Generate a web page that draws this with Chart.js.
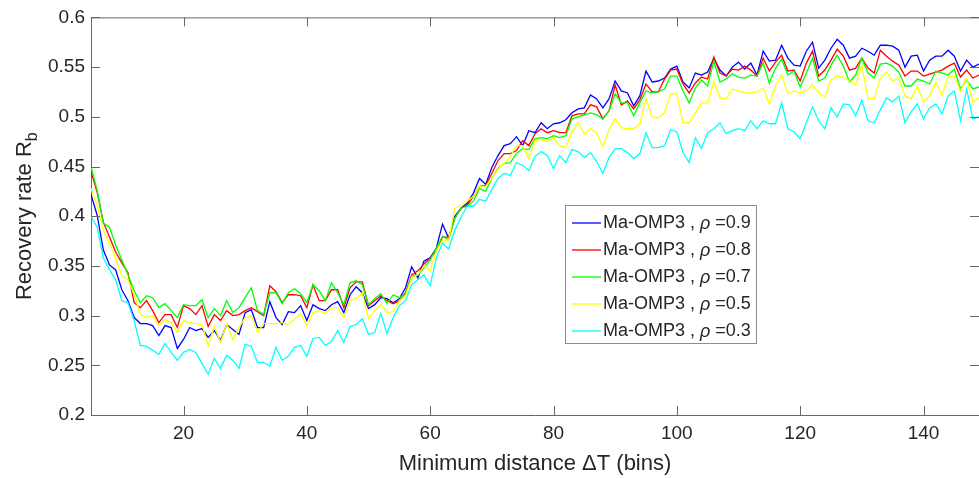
<!DOCTYPE html>
<html><head><meta charset="utf-8">
<script src="https://cdn.jsdelivr.net/npm/chart.js@4"></script>
<style>html,body{margin:0;padding:0;background:#fff;}#wrap{width:979px;height:478px;}</style>
</head><body><div id="wrap"><canvas id="c" width="979" height="478"></canvas></div>
<script>
const deltaT = [5,6,7,8,9,10,11,12,13,14,15,16,17,18,19,20,21,22,23,24,25,26,27,28,29,30,31,32,33,34,35,36,37,38,39,40,41,42,43,44,45,46,47,48,49,50,51,52,53,54,55,56,57,58,59,60,61,62,63,64,65,66,67,68,69,70,71,72,73,74,75,76,77,78,79,80,81,82,83,84,85,86,87,88,89,90,91,92,93,94,95,96,97,98,99,100,101,102,103,104,105,106,107,108,109,110,111,112,113,114,115,116,117,118,119,120,121,122,123,124,125,126,127,128,129,130,131,132,133,134,135,136,137,138,139,140,141,142,143,144,145,146,147,148,149];

const rho09 = [0.422,0.401,0.366,0.351,0.346,0.326,0.315,0.298,0.292,0.292,
0.290,0.280,0.290,0.288,0.267,0.276,0.288,0.285,0.287,0.278,
0.285,0.275,0.291,0.286,0.281,0.303,0.306,0.288,0.288,0.314,
0.298,0.291,0.304,0.303,0.310,0.295,0.311,0.307,0.305,0.311,
0.314,0.303,0.321,0.329,0.323,0.307,0.311,0.318,0.317,0.313,
0.317,0.328,0.349,0.338,0.355,0.358,0.368,0.392,0.378,0.400,
0.408,0.413,0.423,0.438,0.432,0.449,0.461,0.471,0.473,0.480,
0.471,0.486,0.484,0.494,0.488,0.493,0.494,0.497,0.504,0.508,
0.509,0.522,0.518,0.509,0.518,0.536,0.526,0.524,0.511,0.521,
0.546,0.535,0.536,0.539,0.548,0.551,0.535,0.529,0.544,0.542,
0.545,0.559,0.547,0.541,0.550,0.555,0.548,
0.554,0.542,0.566,0.556,0.557,0.572,0.559,0.552,0.551,0.566,0.575,0.549,0.557,0.569,0.578,0.572,0.559,0.561,0.569,0.566,0.562,0.572,0.572,0.571,0.567,0.550,0.561,0.562,0.546,0.557,0.561,0.561,0.567,0.561,0.546,0.557,0.550,0.553];

const rho08 = [0.445,0.424,0.394,0.379,0.364,0.353,0.343,0.313,0.308,0.315,
0.305,0.293,0.301,0.301,0.288,0.310,0.307,0.301,0.310,0.289,
0.301,0.295,0.305,0.300,0.301,0.305,0.308,0.304,0.300,0.330,
0.324,0.313,0.321,0.321,0.320,0.308,0.331,
0.315,0.315,0.326,0.326,0.308,0.328,0.334,0.334,0.310,0.315,
0.320,0.315,0.312,0.315,0.323,0.341,0.345,0.352,0.358,0.365,
0.379,0.379,0.398,0.408,0.411,0.420,0.430,0.431,0.443,0.456,
0.463,0.463,0.466,0.476,0.471,0.483,
0.488,0.484,0.486,0.484,0.484,0.501,0.503,0.503,0.512,0.510,
0.498,0.506,0.532,0.512,0.516,0.508,0.517,0.533,0.525,0.525,
0.538,0.547,0.548,0.533,0.524,0.534,0.540,0.538,0.560,0.544,
0.541,0.548,0.547,0.551,
0.547,0.541,0.559,0.546,0.555,0.562,0.546,0.547,0.536,0.554,0.566,0.541,0.547,0.557,0.568,0.561,0.547,0.549,0.559,0.549,0.544,0.567,0.561,0.556,0.552,0.541,0.546,0.546,0.541,0.543,0.545,0.547,0.551,0.554,0.540,0.547,0.539,0.542];

const rho07 = [0.450,0.426,0.393,0.389,0.371,0.356,0.341,0.325,0.313,0.320,
0.318,0.308,0.312,0.305,0.298,0.311,0.310,0.310,0.316,0.298,
0.307,0.300,0.315,0.303,0.308,0.318,0.328,0.305,0.301,0.323,
0.323,0.312,0.323,0.327,0.322,0.313,0.331,
0.325,0.315,0.333,0.323,0.311,0.333,0.335,0.331,0.311,0.317,
0.322,0.312,0.321,0.318,0.321,0.340,0.341,0.348,0.356,0.368,
0.380,0.376,0.398,0.408,0.410,0.415,0.428,0.425,0.438,0.448,
0.453,0.454,0.463,0.468,0.467,0.478,
0.479,0.478,0.481,0.479,0.481,0.498,0.500,0.502,0.504,0.502,
0.498,0.506,0.523,0.514,0.514,0.501,0.514,0.526,0.524,0.525,
0.528,0.541,0.541,0.526,0.514,0.529,0.537,0.531,0.556,0.535,
0.538,0.543,0.540,0.539,
0.542,0.541,0.554,0.534,0.549,0.558,0.542,0.546,0.530,0.544,0.559,0.536,0.539,0.552,0.562,0.551,0.535,0.542,0.559,0.544,0.539,0.553,0.554,0.551,0.545,0.531,0.531,0.538,0.536,0.533,0.546,0.544,0.542,0.548,0.528,0.537,0.528,0.530];

const rho05 = [0.428,0.411,0.386,0.373,0.358,0.340,0.336,0.321,0.301,0.298,
0.300,0.290,0.296,0.293,0.283,0.295,0.293,0.292,0.291,0.270,
0.289,0.273,0.292,0.276,0.288,0.298,0.300,0.283,0.292,0.292,
0.292,0.293,0.291,0.296,0.302,0.290,0.303,
0.305,0.302,0.308,0.308,0.298,0.315,0.317,0.323,0.297,0.305,
0.311,0.303,0.304,0.315,0.320,0.338,0.341,0.350,0.345,0.365,
0.376,0.376,0.408,0.411,0.415,0.420,0.430,0.430,0.438,0.447,
0.453,0.460,0.471,0.471,0.458,0.476,
0.477,0.475,0.479,0.471,0.469,0.485,0.494,0.483,0.488,0.484,
0.470,0.487,0.498,0.489,0.488,0.488,0.493,0.518,0.500,0.499,
0.504,0.523,0.523,0.494,0.494,0.504,0.514,0.514,0.536,0.519,
0.518,0.528,0.526,0.524,
0.524,0.525,0.529,0.513,0.531,0.542,0.523,0.526,0.524,0.526,0.532,0.524,0.520,0.537,0.541,0.540,0.536,0.532,0.552,0.518,0.518,0.539,0.545,0.536,0.539,0.521,0.518,0.531,0.515,0.521,0.535,0.522,0.540,0.541,0.526,0.539,0.515,0.519];

const rho03 = [0.400,0.389,0.358,0.346,0.336,0.315,0.313,0.295,0.270,0.269,
0.265,0.261,0.272,0.263,0.255,0.263,0.266,0.263,0.252,0.241,
0.257,0.247,0.260,0.255,0.247,0.271,0.269,0.253,0.253,0.249,
0.268,0.255,0.259,0.268,0.270,0.259,0.277,
0.278,0.270,0.274,0.285,0.273,0.289,0.291,0.297,0.281,0.283,
0.302,0.282,0.298,0.310,0.315,0.331,0.336,0.341,0.330,0.358,
0.373,0.367,0.386,0.399,0.410,0.410,0.417,0.415,0.427,0.438,
0.443,0.441,0.454,0.451,0.446,0.460,
0.465,0.461,0.448,0.461,0.454,0.467,0.465,0.459,0.464,0.455,
0.443,0.459,0.468,0.468,0.464,0.458,0.463,0.484,0.469,0.469,
0.471,0.487,0.485,0.464,0.454,0.479,0.468,0.484,0.488,0.494,
0.483,0.486,0.488,0.486,
0.496,0.488,0.496,0.493,0.493,0.514,0.488,0.485,0.478,0.494,0.510,0.496,0.488,0.509,0.500,0.513,0.512,0.501,0.517,0.496,0.494,0.507,0.519,0.515,0.521,0.494,0.505,0.513,0.498,0.509,0.513,0.503,0.521,0.526,0.496,0.528,0.498,0.500];

const rhoValues = ['0.9','0.8','0.7','0.5','0.3'];
const seriesNames = ['Ma-OMP3 , ρ =0.9','Ma-OMP3 , ρ =0.8','Ma-OMP3 , ρ =0.7','Ma-OMP3 , ρ =0.5','Ma-OMP3 , ρ =0.3'];
const seriesColors = ['#0000ff','#ff0000','#00ff00','#ffff00','#00ffff'];
const seriesData = [rho09, rho08, rho07, rho05, rho03];
const xTickValues = [20,40,60,80,100,120,140];
const yTickValues = [0.2,0.25,0.3,0.35,0.4,0.45,0.5,0.55,0.6];

const FONT = "'Liberation Sans', Arial, Helvetica, sans-serif";
const AXIS = '#666666';
const TEXT = '#262626';

const datasets = seriesData.map((arr, i) => ({
  label: seriesNames[i],
  data: arr.map((v, j) => ({x: deltaT[j], y: v})),
  borderColor: seriesColors[i],
  backgroundColor: seriesColors[i],
  borderWidth: 1.3,
  pointRadius: 0,
  tension: 0,
  fill: false,
  order: 5 - i
}));

const decor = {
  id: 'decor',
  afterDraw(chart) {
    const ctx = chart.ctx;
    const ca = chart.chartArea;
    const xs = chart.scales.x, ys = chart.scales.y;
    ctx.save();
    ctx.strokeStyle = AXIS; ctx.lineWidth = 1;
    ctx.beginPath(); ctx.moveTo(ca.left, ca.top + 0.5); ctx.lineTo(ca.right, ca.top + 0.5); ctx.stroke();
    const TL = 9;
    ctx.beginPath();
    xTickValues.forEach(v => {
      const px = Math.round(xs.getPixelForValue(v)) + 0.5;
      ctx.moveTo(px, ca.bottom); ctx.lineTo(px, ca.bottom - TL);
      ctx.moveTo(px, ca.top); ctx.lineTo(px, ca.top + TL);
    });
    yTickValues.forEach(v => {
      const py = Math.round(ys.getPixelForValue(v)) + 0.5;
      ctx.moveTo(ca.left, py); ctx.lineTo(ca.left + TL, py);
      ctx.moveTo(ca.right, py); ctx.lineTo(ca.right - TL, py);
    });
    ctx.stroke();

    // y title with subscript
    ctx.fillStyle = TEXT;
    ctx.translate(25, (ca.top + ca.bottom) / 2);
    ctx.rotate(-Math.PI / 2);
    const main = 'Recovery rate R';
    ctx.font = '16px ' + FONT;
    const wb = ctx.measureText('b').width;
    ctx.font = '22px ' + FONT;
    const wm = ctx.measureText(main).width;
    const total = wm + wb;
    ctx.textBaseline = 'middle';
    ctx.textAlign = 'left';
    ctx.fillText(main, -total / 2, 0);
    ctx.font = '16px ' + FONT;
    ctx.fillText('b', -total / 2 + wm, 8);
    ctx.setTransform(1, 0, 0, 1, 0, 0);

    // legend
    const bx = 565.5, by = 205.5, bw = 191, bh = 138;
    ctx.fillStyle = '#ffffff';
    ctx.fillRect(bx, by, bw, bh);
    ctx.strokeStyle = '#8c8c8c';
    ctx.strokeRect(bx, by, bw, bh);
    const rowY0 = 223, rowStep = 27;
    seriesNames.forEach((name, i) => {
      const y = rowY0 + i * rowStep;
      ctx.strokeStyle = seriesColors[i];
      ctx.lineWidth = 1.3;
      ctx.beginPath(); ctx.moveTo(572, y); ctx.lineTo(601, y); ctx.stroke();
      ctx.fillStyle = TEXT;
      ctx.textBaseline = 'middle';
      ctx.textAlign = 'left';
      let x = 603;
      const p1 = 'Ma-OMP3 , ';
      ctx.font = '18px ' + FONT;
      ctx.fillText(p1, x, y); x += ctx.measureText(p1).width;
      ctx.font = 'italic 18px ' + FONT;
      ctx.fillText('ρ', x, y + 1); x += ctx.measureText('ρ').width;
      ctx.font = '18px ' + FONT;
      ctx.fillText(' =' + rhoValues[i], x, y);
    });
    ctx.restore();
  }
};

new Chart(document.getElementById('c'), {
  type: 'line',
  data: { datasets },
  options: {
    responsive: false,
    animation: false,
    devicePixelRatio: 1,
    layout: { padding: { top: 14, right: 0, left: 0, bottom: 0 } },
    plugins: { legend: { display: false }, tooltip: { enabled: false } },
    scales: {
      x: {
        type: 'linear', min: 5, max: 149,
        ticks: { stepSize: 20, includeBounds: false, maxRotation: 0, autoSkip: false,
                 font: { size: 19, family: FONT }, color: TEXT, padding: 7 },
        grid: { display: false, drawTicks: false },
        border: { display: true, color: AXIS, width: 1 },
        title: { display: true, text: 'Minimum distance ΔT (bins)', color: TEXT,
                 font: { size: 22, family: FONT }, padding: { top: 0, bottom: 1 } },
        afterFit: s => { s.height = 63; }
      },
      y: {
        type: 'linear', min: 0.2, max: 0.6,
        ticks: { stepSize: 0.05, font: { size: 19, family: FONT }, color: TEXT, padding: 6,
                 callback: v => String(Math.round(v * 100) / 100) },
        grid: { display: false, drawTicks: false },
        border: { display: true, color: AXIS, width: 1 },
        afterFit: s => { s.width = 91; }
      }
    }
  },
  plugins: [decor]
});
</script>
</body></html>
